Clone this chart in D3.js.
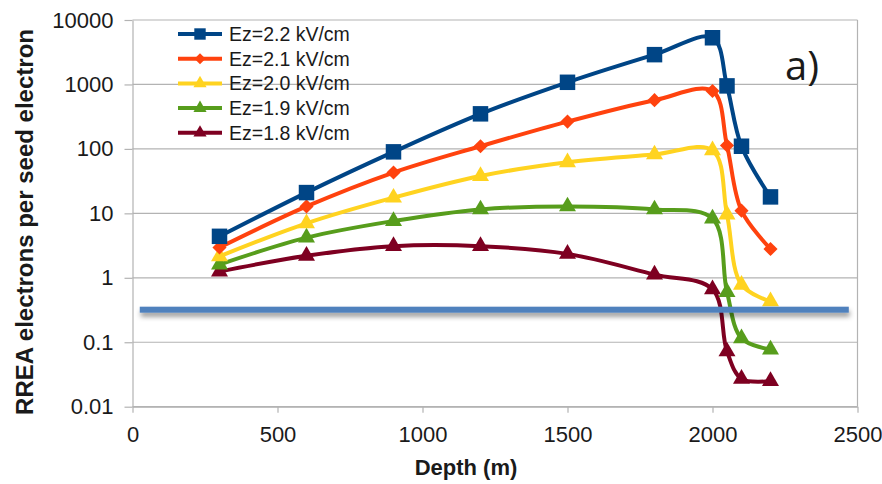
<!DOCTYPE html>
<html>
<head>
<meta charset="utf-8">
<script src="https://cdn.jsdelivr.net/npm/d3@7"></script>
<style>
  html, body { margin: 0; padding: 0; background: #fff; }
  svg { display: block; }
  text { font-family: "Liberation Sans", Arial, sans-serif; fill: #1a1a1a; }
</style>
</head>
<body>
<svg id="chart" width="882" height="484"></svg>
<script>
// Depth of each simulation point (m)
const depths = [300, 600, 900, 1200, 1500, 1800, 2000, 2050, 2100, 2200];

// RREA electrons per seed electron, one array per field strength
const ez22 = [4.4, 21, 90, 350, 1080, 2900, 5300, 950, 110, 18];
const ez21 = [2.95, 12.8, 43, 110, 265, 570, 790, 113, 11, 2.8];
const ez20 = [2.15, 7, 17.5, 38, 62, 82, 95, 9.6, 0.78, 0.43];
const ez19 = [1.6, 4.2, 7.6, 11.5, 12.8, 11.5, 8.3, 0.6, 0.115, 0.077];
const ez18 = [1.25, 2.2, 3.1, 3.1, 2.35, 1.12, 0.66, 0.072, 0.027, 0.025];

const seriesNames = ["Ez=2.2 kV/cm", "Ez=2.1 kV/cm", "Ez=2.0 kV/cm", "Ez=1.9 kV/cm", "Ez=1.8 kV/cm"];
const seriesColors = ["#004586", "#ff420e", "#ffd320", "#579d1c", "#7e0021"];
const seriesMarkers = ["square", "diamond", "triangle", "triangle", "triangle"];

const xTicks = [0, 500, 1000, 1500, 2000, 2500];
const yTicks = [0.01, 0.1, 1, 10, 100, 1000, 10000];
const yTickLabels = ["0.01", "0.1", "1", "10", "100", "1000", "10000"];

// Horizontal threshold marker across the plot
const thresholdValue = 0.32;
const thresholdSpan = [25, 2470];

const panelLabel = "a)";
const xTitle = "Depth (m)";
const yTitle = "RREA electrons per seed electron";

const series = [ez22, ez21, ez20, ez19, ez18].map((vals, i) => ({
  name: seriesNames[i],
  color: seriesColors[i],
  marker: seriesMarkers[i],
  points: depths.map((d, j) => ({ d, v: vals[j] }))
}));

const svg = d3.select("#chart");
const plotLeft = 132.5, plotRight = 857.5, plotTop = 20, plotBottom = 406.7;

const x = d3.scaleLinear().domain([0, 2500]).range([plotLeft, plotRight]);
const y = d3.scaleLog().domain([0.01, 10000]).range([plotBottom, plotTop]);

const gridColor = "#b3b3b3";

// Horizontal gridlines
svg.append("g")
  .selectAll("line")
  .data(yTicks)
  .join("line")
  .attr("x1", plotLeft).attr("x2", plotRight)
  .attr("y1", d => y(d)).attr("y2", d => y(d))
  .attr("stroke", gridColor).attr("stroke-width", 1.2);

// Right frame edge
svg.append("line")
  .attr("x1", plotRight).attr("x2", plotRight)
  .attr("y1", plotTop).attr("y2", plotBottom)
  .attr("stroke", gridColor).attr("stroke-width", 1.2);

// Y axis
const yAxis = svg.append("g")
  .attr("transform", `translate(${plotLeft},0)`)
  .call(d3.axisLeft(y)
    .tickValues(yTicks)
    .tickFormat((d, i) => yTickLabels[i])
    .tickSize(8)
    .tickSizeOuter(0)
    .tickPadding(11));
yAxis.select(".domain").attr("stroke", gridColor).attr("stroke-width", 1.2);
yAxis.selectAll(".tick line").attr("stroke", gridColor).attr("stroke-width", 1.2);
yAxis.selectAll(".tick text")
  .style("font-family", "'Liberation Sans', Arial, sans-serif")
  .style("font-size", "22px").attr("fill", "#1a1a1a");

// X axis
const xAxis = svg.append("g")
  .attr("transform", `translate(0,${plotBottom})`)
  .call(d3.axisBottom(x)
    .tickValues(xTicks)
    .tickFormat(d3.format("d"))
    .tickSize(6)
    .tickSizeOuter(0)
    .tickPadding(14));
xAxis.select(".domain").attr("stroke", gridColor).attr("stroke-width", 1.2);
xAxis.selectAll(".tick line").attr("stroke", gridColor).attr("stroke-width", 1.2);
xAxis.selectAll(".tick text")
  .style("font-family", "'Liberation Sans', Arial, sans-serif")
  .style("font-size", "22px").attr("fill", "#1a1a1a");

// Axis titles
svg.append("text")
  .attr("x", 466).attr("y", 475)
  .attr("text-anchor", "middle")
  .style("font-size", "22px").style("font-weight", "bold")
  .text(xTitle);

svg.append("text")
  .attr("transform", "translate(33,222) rotate(-90)")
  .attr("text-anchor", "middle")
  .style("font-size", "24px").style("font-weight", "bold")
  .text(yTitle);

// Marker shapes
function markerPath(kind) {
  if (kind === "square") return d3.symbol(d3.symbolSquare, 240)();
  if (kind === "diamond") return d3.symbol(d3.symbolSquare, 100)();
  return d3.symbol(d3.symbolTriangle, 125)();
}
function markerRotate(kind) { return kind === "diamond" ? " rotate(45)" : ""; }

const line = d3.line()
  .x(p => x(p.d))
  .y(p => y(p.v))
  .curve(d3.curveCatmullRom.alpha(0.5));

// Series: lines and markers, last series drawn first
const seriesG = svg.append("g");
series.slice().reverse().forEach(s => {
  const g = seriesG.append("g");
  g.append("path")
    .datum(s.points)
    .attr("d", line)
    .attr("fill", "none")
    .attr("stroke", s.color)
    .attr("stroke-width", 4)
    .attr("stroke-linejoin", "round");
  g.selectAll("path.mk")
    .data(s.points)
    .join("path")
    .attr("class", "mk")
    .attr("d", markerPath(s.marker))
    .attr("transform", p => `translate(${x(p.d)},${y(p.v)})${markerRotate(s.marker)}`)
    .attr("fill", s.color);
});

// Threshold bar with soft shadow
const defs = svg.append("defs");
const f = defs.append("filter").attr("id", "shadow")
  .attr("filterUnits", "userSpaceOnUse")
  .attr("x", 100).attr("y", 280).attr("width", 800).attr("height", 60);
f.append("feDropShadow")
  .attr("dx", 1).attr("dy", 4).attr("stdDeviation", 2.5)
  .attr("flood-color", "#000").attr("flood-opacity", 0.4);

const barH = 6;
svg.append("rect")
  .attr("x", x(thresholdSpan[0]))
  .attr("width", x(thresholdSpan[1]) - x(thresholdSpan[0]))
  .attr("y", y(thresholdValue) - barH / 2)
  .attr("height", barH)
  .attr("fill", "#4f81bd")
  .attr("filter", "url(#shadow)");

// Legend
const legend = svg.append("g");
series.forEach((s, i) => {
  const ly = 34 + i * 24.7;
  const g = legend.append("g").attr("transform", `translate(0,${ly})`);
  g.append("line")
    .attr("x1", 178).attr("x2", 222)
    .attr("stroke", s.color).attr("stroke-width", 4);
  const mk = s.marker === "square" ? d3.symbol(d3.symbolSquare, 130)()
    : s.marker === "diamond" ? d3.symbol(d3.symbolSquare, 60)()
    : d3.symbol(d3.symbolTriangle, 75)();
  g.append("path")
    .attr("d", mk)
    .attr("transform", `translate(200,0)${markerRotate(s.marker)}`)
    .attr("fill", s.color);
  g.append("text")
    .attr("x", 229).attr("y", 0).attr("dy", "0.35em")
    .style("font-size", "19.5px")
    .text(s.name);
});

// Panel label
svg.append("text")
  .attr("x", 785).attr("y", 80)
  .style("font-family", "'Open Sans', sans-serif")
  .style("font-size", "40px")
  .attr("fill", "#000")
  .text(panelLabel);
</script>
</body>
</html>
